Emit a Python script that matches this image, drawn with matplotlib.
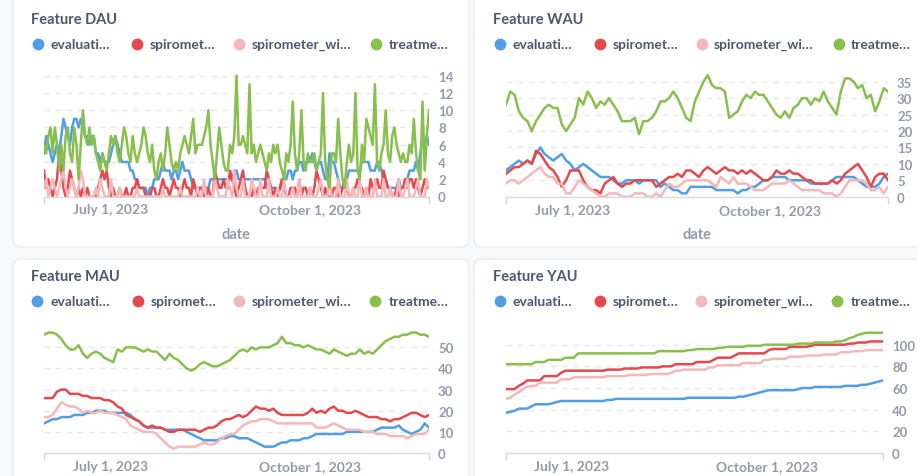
import matplotlib
matplotlib.use("Agg")
import matplotlib.pyplot as plt
import pandas as pd
from matplotlib.patches import FancyBboxPatch

plt.rcParams['font.family'] = ['Lato', 'DejaVu Sans']

# ---------------- data ----------------
series_names = ['evaluati…', 'spiromet…', 'spirometer_wi…', 'treatme…']
series_colors = ['#509EE3', '#E5484D', '#F5B8BA', '#88BF4D']
tick_dates = ['2023-07-01', '2023-10-01']
tick_labels = ['July 1, 2023', 'October 1, 2023']

dau_dates = pd.date_range('2023-05-31', periods=179, freq='D')
agg_dates = pd.date_range('2023-05-31', periods=90, freq='2D')

dau_eval = [5,7,6,5,4,5,6,5,7,9, 8,7,6,8,9,9,8,9,8,7, 7,6,7,7,5,5,4,5,4,4,
            4,5,6,7,6,5,4,4,4,4, 3,3,2,2,1,1,1,1,0,1, 1,2,2,2,3,4,3,3,3,2,
            3,3,2,3,4,3,3,3,2,1, 1,1,1,1,1,1,1,2,2,2, 2,2,2,2,2,2,2,2,3,3,
            2,2,2,2,2,2,2,2,2,2, 2,2,2,1,1,1,1,1,0,1, 1,2,2,3,3,2,3,3,4,4,
            3,4,4,4,5,4,3,4,4,3, 2,2,5,4,4,3,2,1,1,1, 2,3,3,3,3,3,3,4,4,4,
            4,3,3,3,4,4,3,2,2,1, 1,1,1,1,2,1,1,2,2,3, 3,3,4,3,5,7,6,7,6]
dau_spiro = [3,1,2,1,0,1,2,5,3,1, 0,1,3,2,1,0,1,0,1,0, 1,0,0,0,0,1,2,3,2,3,
             1,0,1,0,0,1,0,0,1,0, 0,1,1,2,1,1,1,0,0,0, 1,1,0,0,1,2,1,1,0,1,
             2,1,1,0,1,2,1,1,0,2, 1,0,1,1,0,0,1,0,0,3, 2,1,1,2,1,1,3,2,1,0,
             1,2,3,1,0,0,0,1,0,1, 1,1,1,3,2,1,0,1,0,1, 2,1,0,0,1,1,1,0,2,0,
             1,1,0,1,0,1,3,2,1,0, 1,0,0,0,1,1,0,0,1,2, 1,0,0,1,1,2,1,1,0,1,
             0,2,1,1,2,1,1,3,2,1, 1,0,0,1,0,1,1,2,1,2, 2,1,2,1,0,1,2,1,1]
dau_spiro_wi = [1,2,0,1,2,1,0,1,2,3, 1,0,1,2,1,0,1,3,2,0, 0,0,0,0,1,0,2,1,0,0,
                0,2,0,0,0,1,0,0,0,0, 0,0,0,1,0,0,0,0,0,0, 0,0,0,0,0,1,0,0,0,0,
                0,0,0,1,0,0,0,0,0,0, 0,1,0,0,2,0,0,0,0,2, 1,0,0,0,0,2,1,0,3,1,
                0,0,2,0,0,0,2,1,0,0, 2,0,0,0,2,0,0,0,1,0, 0,2,0,0,0,1,0,0,2,0,
                0,0,0,1,0,0,0,1,2,0, 0,0,2,0,0,0,2,0,0,0, 2,0,0,1,0,0,2,0,0,1,
                0,0,0,2,0,0,0,2,0,0, 1,0,0,0,2,0,0,1,2,0, 0,0,1,2,0,0,0,2,1]
dau_treat = [6,5,7,8,5,8,6,3,6,3, 7,8,5,4,8,6,2,6,10,7, 6,8,6,7,5,4,3,5,4,3,
             5,7,6,7,5,4,6,8,7,5, 4,7,5,4,5,6,8,7,5,4, 6,3,2,4,5,3,5,8,6,4,
             3,4,3,5,6,7,6,5,7,9, 5,6,6,6,7,8,10,6,4,2, 5,8,6,4,3,3,6,5,7,14,
             6,6,7,6,5,13,5,6,4,5, 6,5,4,3,5,4,6,5,6,4, 3,2,5,4,6,11,5,3,5,10,
             4,3,5,4,4,5,3,4,5,12, 4,2,1,5,5,4,9,5,2,1, 4,6,4,5,12,3,2,6,4,9,
             8,7,6,13,4,3,5,6,10,5, 4,7,8,6,5,4,5,4,4,6, 5,9,5,3,2,11,3,7,10]

wau_eval = [8,9,10,11,10,11,10,13,15,13, 12,11,12,13,11,10,8,9,10,9,
            8,7,6,6,6,5,4,4,5,5, 5,4,5,5,5,5,3,4,3,2,
            2,1,1,3,3,3,3,3,3,2, 2,2,2,2,1,2,2,3,3,4,
            5,5,6,6,6,6,5,5,5,5, 5,4,4,4,4,4,5,6,6,6,
            6,6,5,4,3,3,3,4,6,7]
wau_spiro = [7,8,9,9,10,11,10,14,13,11, 9,8,6,3,5,8,8,8,5,3,
             2,2,1,4,5,6,4,3,4,4, 5,5,5,5,5,3,4,5,6,6,
             7,6,8,8,7,6,8,9,8,7, 8,9,8,8,7,8,7,8,7,6,
             5,5,6,8,7,7,8,7,7,6, 5,5,4,4,4,4,5,4,5,7,
             8,9,10,8,6,3,6,7,7,5]
wau_spiro_wi = [4,5,5,4,5,6,7,8,9,7, 6,6,4,4,1,1,3,5,4,3,
                2,1,0,0,1,1,1,0,0,0, 1,1,1,0,0,1,0,2,4,3,
                3,4,5,5,5,5,5,5,4,3, 6,5,4,6,4,4,4,3,2,2,
                2,3,4,4,4,4,5,4,3,2, 2,2,2,2,1,1,1,0,1,3,
                5,5,5,5,4,2,2,3,1,3]
wau_treat = [28,32,31,26,24,23,20,23,25,27, 28,27,27,22,20,22,24,30,28,32,
             30,27,29,28,30,28,26,23,23,23, 24,19,23,23,24,26,29,29,30,32,
             30,27,24,23,29,32,35,37,34,33, 33,32,24,25,26,29,31,30,32,31,
             31,29,27,25,24,26,24,27,28,30, 30,28,30,29,32,29,27,25,32,36,
             36,35,33,34,30,31,26,29,33,32]

mau_eval = [14,15,16,16,17,17,17,18,18,18, 19,19,20,20,20,19,19,19,19,19,
            18,16,15,13,12,12,12,12,11,11, 11,11,11,10,9,8,7,6,6,6,
            6,7,7,8,8,7,7,7,6,5, 4,3,3,3,4,5,5,6,6,6,
            7,7,8,9,9,9,9,9,9,9, 10,10,10,10,10,10,10,11,12,12,
            12,12,13,11,10,9,10,11,14,12]
mau_spiro = [26,26,26,29,30,30,28,28,28,27, 27,26,26,26,25,25,24,22,21,18,
             17,16,15,13,12,13,12,12,11,10, 10,11,11,11,11,11,10,11,12,12,
             13,15,16,16,17,18,17,18,20,22, 21,21,20,21,19,18,18,18,18,18,
             18,19,21,19,20,19,21,22,20,20, 19,19,20,19,18,17,17,17,16,16,
             15,16,16,17,18,19,19,18,17,18]
mau_spiro_wi = [17,17,18,21,24,23,22,22,21,19, 20,19,19,20,19,19,19,18,17,16,
                13,12,11,10,10,10,9,7,5,3, 2,3,3,3,3,3,4,5,4,4,
                5,7,8,9,9,11,13,14,15,15, 16,16,16,15,14,14,14,14,14,14,
                14,14,14,12,12,12,13,14,13,12, 11,11,11,11,10,10,10,9,9,9,
                8,8,8,8,7,8,9,9,9,11]
mau_treat = [56,57,57,56,54,51,49,49,51,47, 45,47,48,47,45,44,43,49,48,50,
             50,50,49,48,49,48,48,46,44,47, 45,44,42,40,39,40,42,43,42,41,
             41,42,43,44,46,48,49,48,50,49, 50,50,50,51,52,55,52,52,51,51,
             50,51,50,49,49,48,47,49,48,47, 46,47,47,49,47,48,47,49,51,53,
             54,55,55,56,56,57,57,56,56,55]

yau_eval = [37,38,39,41,41,41,43,45,45,45, 45,46,47,48,48,48,48,48,48,48,
            48,48,48,48,49,49,50,50,50,50, 50,50,50,50,50,50,50,50,50,50,
            50,50,50,51,51,51,51,51,51,51, 51,51,51,51,51,52,52,53,54,55,
            56,57,58,58,58,58,58,58,58,59, 60,60,60,61,61,61,61,61,61,61,
            62,62,62,62,63,63,64,65,66,67]
yau_spiro = [59,59,59,62,64,67,67,67,67,71, 71,71,71,74,76,76,76,76,76,76,
             76,76,76,76,77,77,77,77,78,78, 78,78,79,79,79,79,79,80,80,80,
             82,82,82,82,82,84,84,84,84,86, 88,88,88,88,90,92,92,92,92,92,
             92,92,95,96,96,96,96,98,98,98, 98,98,99,100,100,100,100,100,100,100,
             100,101,101,102,102,102,103,103,103,103]
yau_spiro_wi = [50,51,54,56,59,61,62,62,65,65, 65,65,65,68,68,68,70,70,70,70,
                70,70,70,70,71,71,71,71,71,72, 72,72,72,72,73,73,73,73,73,74,
                76,76,77,77,77,77,77,77,79,79, 81,81,81,81,81,81,83,83,83,83,
                83,86,86,87,87,87,87,89,89,89, 89,90,90,90,90,91,91,91,91,93,
                93,93,94,94,94,95,95,95,95,95]
yau_treat = [82,82,82,82,82,82,82,84,84,84, 86,86,86,86,88,88,88,92,92,92,
             92,92,92,92,92,92,92,92,92,92, 92,92,92,92,92,92,94,94,94,94,
             94,94,94,95,95,96,96,96,96,96, 97,97,98,98,98,98,98,99,99,99,
             99,100,100,100,100,100,100,100,100,101, 101,101,101,102,102,102,102,102,103,103,
             104,106,107,109,110,111,111,111,111,111]

# ---------------- styling ----------------
W, H = 917, 477
TITLE_C = '#4C5773'
LABEL_C = '#949AAB'
GRID_C = '#E6E8EC'
AXIS_C = '#D7DADF'

fig = plt.figure(figsize=(W / 100, H / 100), dpi=100)
fig.patch.set_facecolor('#F8F9FB')
bg = fig.add_axes([0, 0, 1, 1])
bg.set_xlim(0, W)
bg.set_ylim(H, 0)
bg.axis('off')

cards = [(13, -20, 456, 268), (474, -20, 470, 268), (13, 260, 456, 240), (474, 260, 470, 240)]
for (cx, cy, cw, ch) in cards:
    bg.add_patch(FancyBboxPatch((cx, cy), cw, ch, boxstyle='round,pad=0,rounding_size=8',
                                fc='white', ec='#E9EBEE', lw=1))


def panel(title, left, right, y0, ppu, ymax, yticks, dates, data, ypad,
          title_xy, legend_y, dot_xs, text_xs, show_xlabel):
    ax = fig.add_axes([left / W, 1 - y0 / H, (right - left) / W, ymax * ppu / H])
    ax.set_facecolor('none')
    for vals, col in zip(data, series_colors):
        ax.plot(dates, vals, color=col, lw=1.8, solid_joinstyle='round')
    ax.set_xlim(dates[0], dates[-1])
    ax.set_ylim(0, ymax)
    for s in ['left', 'top', 'right']:
        ax.spines[s].set_visible(False)
    ax.spines['bottom'].set_color(AXIS_C)
    ax.spines['bottom'].set_linewidth(1)
    ax.yaxis.tick_right()
    ax.set_yticks(yticks)
    ax.set_yticklabels([str(t) for t in yticks])
    ax.tick_params(axis='y', length=0, pad=ypad, labelsize=9.5, labelcolor=LABEL_C)
    for lab in ax.get_yticklabels():
        lab.set_fontweight('bold')
    ax.yaxis.grid(True, linestyle=(0, (4, 4)), color=GRID_C, lw=1)
    ax.set_axisbelow(True)
    ax.set_xticks(pd.to_datetime(tick_dates))
    ax.set_xticklabels(tick_labels)
    ax.tick_params(axis='x', which='major', length=0, pad=5, labelsize=10, labelcolor=LABEL_C)
    for lab in ax.get_xticklabels():
        lab.set_fontweight('bold')
    ax.set_xticks([dates[0], dates[-1]], minor=True)
    ax.tick_params(axis='x', which='minor', length=5, width=1, color=AXIS_C)
    ax.xaxis.set_minor_formatter(plt.NullFormatter())
    bg.text(title_xy[0], title_xy[1], title, fontsize=10.5, fontweight='bold', color=TITLE_C,
            ha='left', va='center')
    for name, col, dx, tx in zip(series_names, series_colors, dot_xs, text_xs):
        bg.plot([dx], [legend_y], 'o', ms=8.5, color=col, mec='none')
        bg.text(tx, legend_y, name, fontsize=10, fontweight='bold', color=TITLE_C,
                ha='left', va='center')
    if show_xlabel:
        bg.text((left + right) / 2, 235, 'date', fontsize=10.5, fontweight='bold', color=LABEL_C,
                ha='center', va='center')
    return ax


panel('Feature DAU', 44, 429, 197.5, 8.63, 14.6, list(range(0, 15, 2)), dau_dates,
      [dau_eval, dau_spiro, dau_spiro_wi, dau_treat], 6.5,
      (31, 20.5), 45, [37.5, 137, 238.5, 376], [50.5, 150, 251.5, 388.5], True)
panel('Feature WAU', 506, 888, 197.7, 3.286, 38, list(range(0, 36, 5)), agg_dates,
      [wau_eval, wau_spiro, wau_spiro_wi, wau_treat], 6.5,
      (493, 20.5), 45, [499.5, 600, 701.5, 838.5], [512.5, 612.5, 714, 850.5], True)
panel('Feature MAU', 44, 429, 454, 2.113, 58, list(range(0, 51, 10)), agg_dates,
      [mau_eval, mau_spiro, mau_spiro_wi, mau_treat], 6.5,
      (31, 277.5), 302, [37, 137.5, 238.5, 375], [50.5, 150.5, 252, 388.5], False)
panel('Feature YAU', 506, 883, 454, 1.083, 115, list(range(0, 101, 20)), agg_dates,
      [yau_eval, yau_spiro, yau_spiro_wi, yau_treat], 6.5,
      (493, 277.5), 302, [499.5, 600, 701, 837], [512.5, 612.5, 714, 850.5], False)

fig.savefig('out.png', dpi=100, facecolor=fig.get_facecolor())
